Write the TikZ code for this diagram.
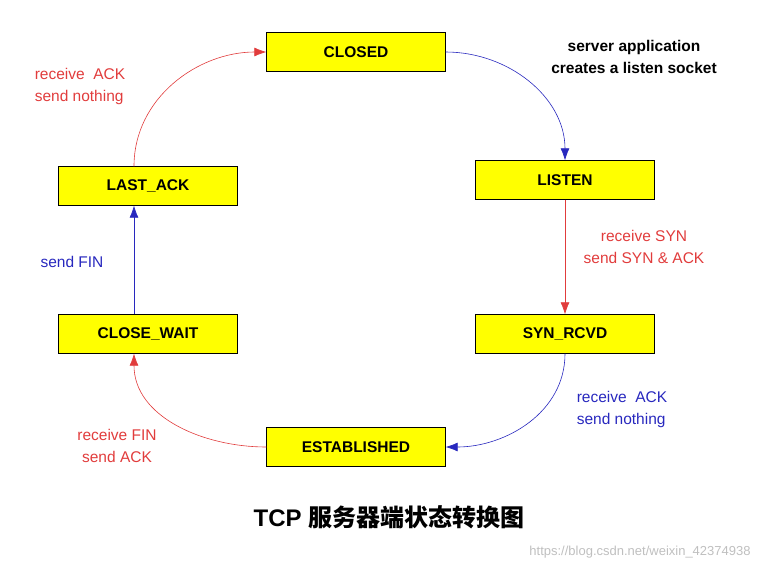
\documentclass[tikz,border=0pt]{standalone}
\usepackage{fontspec}
\setmainfont{Liberation Sans}
\newfontfamily\cjk{Noto Sans CJK SC}
\usetikzlibrary{arrows.meta, positioning}
\definecolor{boxyellow}{RGB}{255,255,0}
\definecolor{lblred}{RGB}{225,60,60}
\definecolor{lblblue}{RGB}{40,40,190}
\tikzset{
  state/.style={draw, fill=boxyellow, minimum width=179pt, minimum height=39pt,
    font=\fontsize{15.5}{18}\selectfont\bfseries},
  redarr/.style={draw=lblred, -{Latex[length=12pt,width=9pt]}, line width=0.6pt},
  bluearr/.style={draw=lblblue, -{Latex[length=12pt,width=9pt]}, line width=0.6pt},
  lbl/.style={align=center, font=\fontsize{15.5}{22}\selectfont}
}
\begin{document}
\begin{tikzpicture}[x=1pt, y=-1pt]
\useasboundingbox (0,0) rectangle (778,570);

%% states
\node[state] (closed) at (356,52) {CLOSED};
\node[state] (listen) at (565,180) {LISTEN};
\node[state] (synrcvd) at (565,334) {SYN\_RCVD};
\node[state] (estab) at (356,447) {ESTABLISHED};
\node[state] (closewait) at (148,334) {CLOSE\_WAIT};
\node[state] (lastack) at (148,186) {LAST\_ACK};

%% transitions
\draw[bluearr] (closed.east) to[out=0, in=90] (listen.north);
\draw[redarr] (listen.south) -- (synrcvd.north);
\draw[bluearr] (synrcvd.south) to[out=-90, in=0] (estab.east);
\draw[redarr] (estab.west) to[out=180, in=-90] ([xshift=-14pt]closewait.south);
\draw[bluearr] ([xshift=-14pt]closewait.north) -- ([xshift=-14pt]lastack.south);
\draw[redarr] ([xshift=-14pt]lastack.north) to[out=90, in=180] (closed.west);

%% labels
\node[lbl, font=\fontsize{15.5}{22}\selectfont\bfseries] (srvapp) at (634,57) {server application\\creates a listen socket};
\node[lbl, text=lblred] (rsyn) at (644,247) {receive SYN\\send SYN \& ACK};
\node[lbl, text=lblblue, align=left] (rack1) at (622,409) {receive\ \ ACK\\send nothing};
\node[lbl, text=lblred] (rfin) at (117,446) {receive FIN\\send ACK};
\node[lbl, text=lblblue] (sfin) at (72,262) {send FIN};
\node[lbl, text=lblred, align=left] (rack2) at (80,86) {receive\ \ ACK\\send nothing};

\node (title) at (389,517) {\fontsize{24}{28}\selectfont\bfseries TCP {\cjk\bfseries 服务器端状态转换图}};
\node[text=black!25, font=\fontsize{13}{15}\selectfont] (mark) at (640,552) {https://blog.csdn.net/weixin\_42374938};
\end{tikzpicture}
\end{document}
